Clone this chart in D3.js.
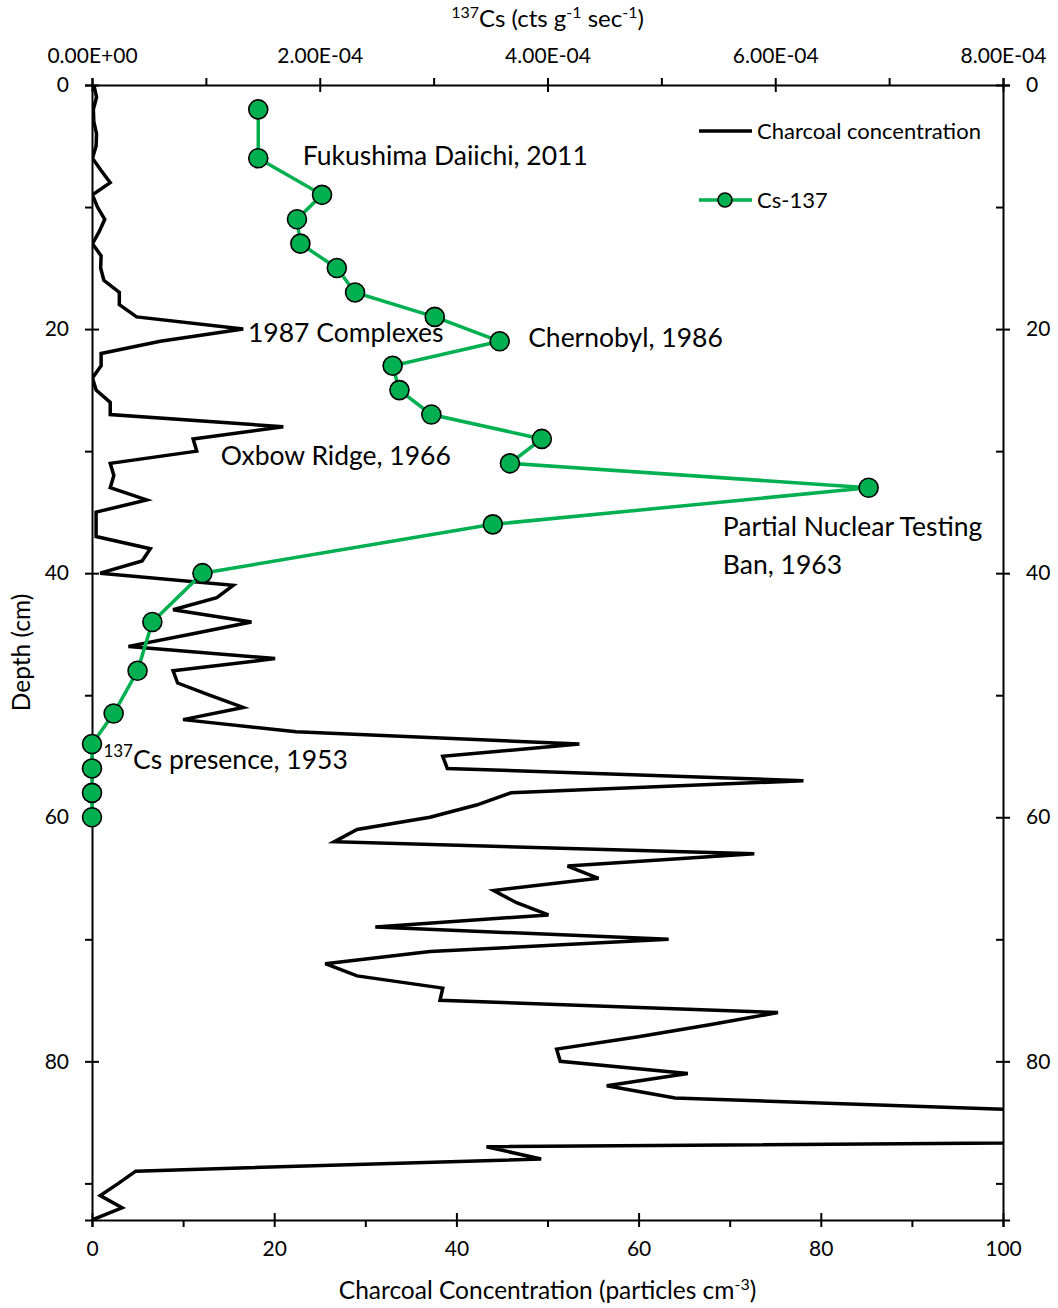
<!DOCTYPE html>
<html>
<head>
<meta charset="utf-8">
<script src="https://cdn.jsdelivr.net/npm/d3@7"></script>
<style>
  body { margin: 0; background: #fff; }
  text { font-family: Lato, "Open Sans", sans-serif; fill: #000; }
</style>
</head>
<body>
<div id="app"></div>
<script>
// charcoal concentration (particles cm-3) by depth (cm), 1 cm samples
const charcoalDepth = [0, 1, 2, 3, 4, 5, 6, 7, 8, 9, 10, 11, 12, 13, 14, 15, 16, 17, 18, 19,
  20, 21, 22, 23, 24, 25, 26, 27, 28, 29, 30, 31, 32, 33, 34, 35, 36, 37, 38, 39,
  40, 41, 42, 43, 44, 45, 46, 47, 48, 49, 50, 51, 52, 53, 54, 55, 56, 57, 58, 59,
  60, 61, 62, 63, 64, 65, 66, 67, 68, 69, 70, 71, 72, 73, 74, 75, 76, 77, 78, 79,
  80, 81, 82, 83, 84, 85, 86, 87, 88, 89, 90, 91, 92, 93];
const charcoalValue = [0.2, 0.5, 0.15, 0.2, 0.5, 0.45, 0.05, 1.0, 2.0, 0.05, 0.6, 1.4, 0.8, 0.05, 1.0, 0.95, 1.3, 3.0, 3.0, 4.9,
  16.6, 7.5, 1.0, 1.0, 0.05, 0.45, 2.0, 2.0, 21.0, 11.1, 11.5, 2.0, 2.4, 2.0, 6.0, 0.45, 0.45, 0.45, 6.4, 5.5,
  0.9, 15.5, 13.7, 8.9, 17.5, 10.8, 4.0, 20.1, 8.9, 9.4, 12.9, 16.6, 10.0, 22.4, 53.5, 38.5, 39.0, 78.1, 46.0, 42.2,
  37.1, 29.1, 26.6, 72.7, 52.2, 55.6, 44.1, 46.6, 50.1, 31.1, 63.3, 37.1, 25.6, 29.1, 38.5, 38.2, 75.3, 67.8, 59.8, 51.0,
  51.4, 65.4, 56.5, 64.0, 103, 180, 232, 43.3, 49.3, 4.8, 2.9, 0.9, 3.3, 0];

// Cs-137 activity (cts g-1 sec-1)
const csDepth = [2, 6, 9, 11, 13, 15, 17, 19, 21, 23, 25, 27, 29, 31, 33, 36, 40, 44, 48, 51.5, 54, 56, 58, 60];
const csValue = [1.46e-4, 1.46e-4, 2.02e-4, 1.80e-4, 1.83e-4, 2.15e-4, 2.31e-4, 3.01e-4, 3.58e-4, 2.64e-4,
  2.70e-4, 2.98e-4, 3.95e-4, 3.67e-4, 6.82e-4, 3.52e-4, 0.97e-4, 0.53e-4, 0.40e-4, 0.19e-4, 0, 0, 0, 0];

const bottomTicks = [0, 20, 40, 60, 80, 100];
const topTicks = [0, 2e-4, 4e-4, 6e-4, 8e-4];
const depthTicks = [0, 20, 40, 60, 80];

// annotations: [text, depth, cs value where the text starts]
const notes = [
  ["Fukushima Daiichi, 2011", 5.8, 1.85e-4],
  ["1987 Complexes", 20.3, 1.37e-4],
  ["Chernobyl, 1986", 20.7, 3.83e-4],
  ["Oxbow Ridge, 1966", 30.4, 1.13e-4],
  ["Partial Nuclear Testing", 36.2, 5.54e-4],
  ["Ban, 1963", 39.3, 5.54e-4]
];

const W = 1058, H = 1308;
const pLeft = 92, pRight = 1003, pTop = 85, pBottom = 1220;

const svg = d3.select("#app").append("svg").attr("width", W).attr("height", H);

const x = d3.scaleLinear().domain([0, 100]).range([pLeft, pRight]);
const xTop = d3.scaleLinear().domain([0, 8e-4]).range([pLeft, pRight]);
const y = d3.scaleLinear().domain([0, 93]).range([pTop, pBottom]);

svg.append("clipPath").attr("id", "plot")
  .append("rect").attr("x", pLeft).attr("y", pTop).attr("width", pRight - pLeft).attr("height", pBottom - pTop);

function styleAxis(g, size) {
  g.select(".domain").attr("stroke", "#000").attr("stroke-width", 2);
  g.selectAll(".tick line").attr("stroke", "#000").attr("stroke-width", 2);
  g.selectAll("text").style("font-size", size + "px").attr("fill", "#000");
}

// bottom axis
const gb = svg.append("g").attr("transform", `translate(0,${pBottom})`)
  .call(d3.axisBottom(x).tickValues(bottomTicks).tickSizeOuter(0).tickSize(7).tickPadding(14));
gb.selectAll(".tick line").attr("y1", -7);
styleAxis(gb, 21);
const gbm = svg.append("g").attr("transform", `translate(0,${pBottom})`)
  .call(d3.axisBottom(x).tickValues([10, 30, 50, 70, 90]).tickSize(7).tickFormat(""));
gbm.select(".domain").remove();
styleAxis(gbm, 21);

// top axis
const gt = svg.append("g").attr("transform", `translate(0,${pTop})`)
  .call(d3.axisTop(xTop).tickValues(topTicks).tickSizeOuter(0).tickSize(7).tickPadding(15)
    .tickFormat(d => d3.format(".2e")(d).toUpperCase().replace(/E([+-])(\d)$/, "E$10$2")));
gt.selectAll(".tick line").attr("y1", 7);
styleAxis(gt, 21);
const gtm = svg.append("g").attr("transform", `translate(0,${pTop})`)
  .call(d3.axisTop(xTop).tickValues([1e-4, 3e-4, 5e-4, 7e-4]).tickSize(7).tickFormat(""));
gtm.select(".domain").remove();
styleAxis(gtm, 21);

// left axis
const gl = svg.append("g").attr("transform", `translate(${pLeft},0)`)
  .call(d3.axisLeft(y).tickValues(depthTicks).tickSizeOuter(0).tickSize(7).tickPadding(16));
gl.selectAll(".tick line").attr("x1", 7);
styleAxis(gl, 21);
const glm = svg.append("g").attr("transform", `translate(${pLeft},0)`)
  .call(d3.axisLeft(y).tickValues([10, 30, 50, 70, 90]).tickSize(7).tickFormat(""));
glm.select(".domain").remove();
styleAxis(glm, 21);

// right axis
const gr = svg.append("g").attr("transform", `translate(${pRight},0)`)
  .call(d3.axisRight(y).tickValues(depthTicks).tickSizeOuter(0).tickSize(7).tickPadding(16));
gr.selectAll(".tick line").attr("x1", -7);
styleAxis(gr, 21);
const grm = svg.append("g").attr("transform", `translate(${pRight},0)`)
  .call(d3.axisRight(y).tickValues([10, 30, 50, 70, 90]).tickSize(-7).tickFormat(""));
grm.select(".domain").remove();
styleAxis(grm, 21);

// axis titles
const bt = svg.append("text").attr("x", (pLeft + pRight) / 2).attr("y", 1299)
  .attr("text-anchor", "middle").style("font-size", "24.5px");
bt.append("tspan").text("Charcoal Concentration (particles cm");
bt.append("tspan").attr("dy", -9).style("font-size", "16px").text("-3");
bt.append("tspan").attr("dy", 9).text(")");

const tt = svg.append("text").attr("x", (pLeft + pRight) / 2).attr("y", 27)
  .attr("text-anchor", "middle").style("font-size", "24px");
tt.append("tspan").attr("dy", -9).style("font-size", "16px").text("137");
tt.append("tspan").attr("dy", 9).text("Cs (cts g");
tt.append("tspan").attr("dy", -9).style("font-size", "16px").text("-1");
tt.append("tspan").attr("dy", 9).text(" sec");
tt.append("tspan").attr("dy", -9).style("font-size", "16px").text("-1");
tt.append("tspan").attr("dy", 9).text(")");

svg.append("text").attr("transform", `translate(30,${(pTop + pBottom) / 2 + 0}) rotate(-90)`)
  .attr("text-anchor", "middle").style("font-size", "24.5px").text("Depth (cm)");

// annotations
svg.selectAll("text.note").data(notes).join("text")
  .attr("class", "note")
  .attr("x", d => xTop(d[2]))
  .attr("y", d => y(d[1]))
  .attr("dy", "0.35em")
  .style("font-size", "26.5px")
  .text(d => d[0]);

const cp = svg.append("text").attr("x", xTop(0.1e-4)).attr("y", y(55.2)).attr("dy", "0.35em")
  .style("font-size", "26.5px");
cp.append("tspan").attr("dy", "-0.1em").style("font-size", "17px").text("137");
cp.append("tspan").attr("dy", "0.45em").text("Cs presence, 1953");

// charcoal series
const charcoal = charcoalDepth.map((d, i) => ({ depth: d, value: charcoalValue[i] }));
svg.append("path")
  .datum(charcoal)
  .attr("clip-path", "url(#plot)")
  .attr("fill", "none")
  .attr("stroke", "#000")
  .attr("stroke-width", 3.5)
  .attr("stroke-linejoin", "miter")
  .attr("d", d3.line().x(d => x(d.value)).y(d => y(d.depth)));

// Cs-137 series
const cs = csDepth.map((d, i) => ({ depth: d, value: csValue[i] }));
const green = "#00b050";
svg.append("path")
  .datum(cs)
  .attr("fill", "none")
  .attr("stroke", green)
  .attr("stroke-width", 3.5)
  .attr("d", d3.line().x(d => xTop(d.value)).y(d => y(d.depth)));
svg.selectAll("circle.cs").data(cs).join("circle")
  .attr("class", "cs")
  .attr("cx", d => xTop(d.value))
  .attr("cy", d => y(d.depth))
  .attr("r", 9.5)
  .attr("fill", green)
  .attr("stroke", "#000")
  .attr("stroke-width", 1.6);

// legend
const lg = svg.append("g");
lg.append("line").attr("x1", 699).attr("x2", 752).attr("y1", 131).attr("y2", 131)
  .attr("stroke", "#000").attr("stroke-width", 3.5);
lg.append("text").attr("x", 757).attr("y", 131).attr("dy", "0.35em").style("font-size", "22px")
  .text("Charcoal concentration");
lg.append("line").attr("x1", 699).attr("x2", 752).attr("y1", 200).attr("y2", 200)
  .attr("stroke", green).attr("stroke-width", 3.5);
lg.append("circle").attr("cx", 725).attr("cy", 200).attr("r", 7)
  .attr("fill", green).attr("stroke", "#000").attr("stroke-width", 1.6);
lg.append("text").attr("x", 757).attr("y", 200).attr("dy", "0.35em").style("font-size", "22px")
  .text("Cs-137");
</script>
</body>
</html>
